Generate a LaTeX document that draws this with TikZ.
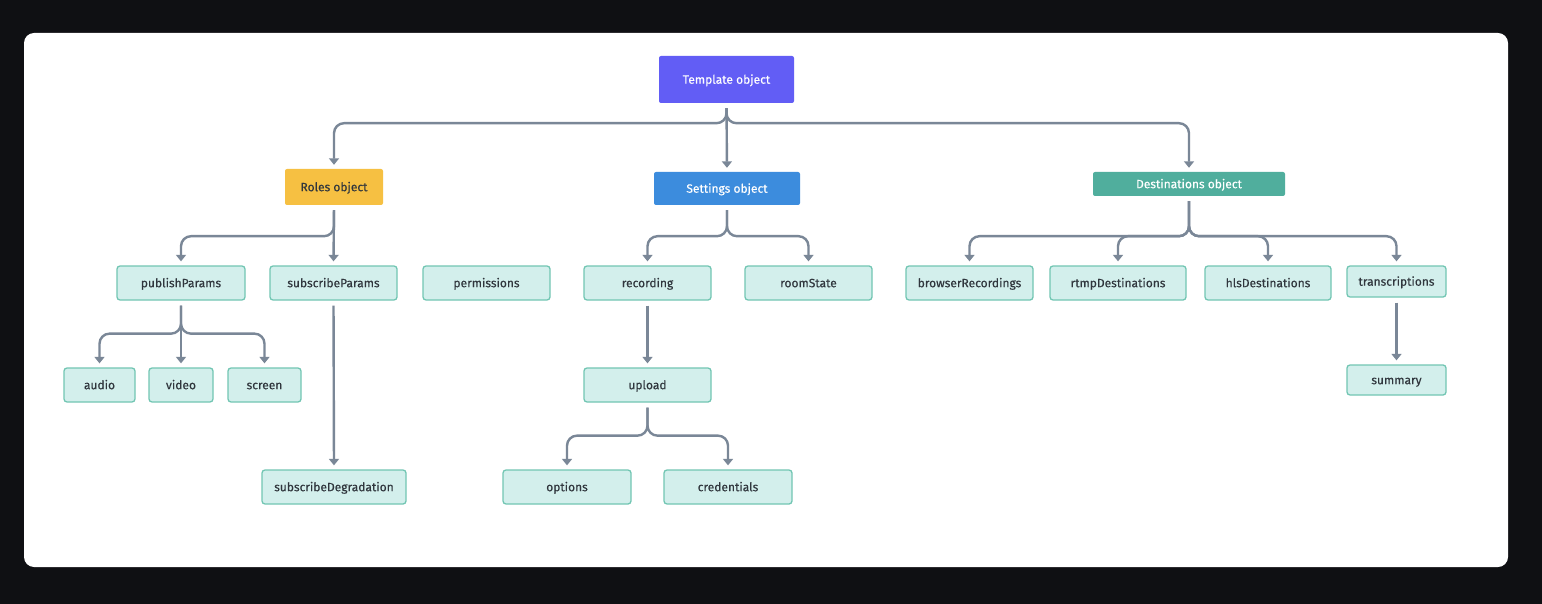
\documentclass[tikz,border=0pt]{standalone}
\usepackage{fontspec}
\setmainfont{Fira Sans}[FakeBold=0.35]
\usetikzlibrary{arrows.meta}
\definecolor{bgdark}{HTML}{0F1013}
\definecolor{tplc}{HTML}{625DF5}
\definecolor{rolec}{HTML}{F6C042}
\definecolor{setc}{HTML}{3C8CDD}
\definecolor{destc}{HTML}{50AE9D}
\definecolor{leaffill}{HTML}{D3EFEC}
\definecolor{leafdraw}{HTML}{72C6B3}
\definecolor{connc}{HTML}{7A8797}
\definecolor{txtc}{HTML}{30363D}
\begin{document}
\begin{tikzpicture}[x=1pt,y=-1pt,
  every node/.style={font=\fontsize{12}{14}\selectfont, text height=1.9ex, text depth=.3ex, inner sep=0pt},
  head/.style={rounded corners=2pt, minimum height=#1},
  leaf/.style={draw=leafdraw, line width=1.3pt, fill=leaffill, rounded corners=3pt, minimum height=34pt, text=txtc},
  conn/.style={draw=connc, line width=2.4pt, rounded corners=10pt, shorten <=5pt, shorten >=4pt,
    -{Triangle[width=10pt,length=6.5pt]}}
]
\fill[bgdark] (0,0) rectangle (1542,604);
\fill[white, rounded corners=10pt] (24,33) rectangle (1508,567);

% headers
\node[head=47pt, fill=tplc, text=white, minimum width=135pt] (T) at (726.5,79.5) {Template object};
\node[head=36pt, fill=rolec, text=txtc, minimum width=98pt] (R) at (334,187) {Roles object};
\node[head=33pt, fill=setc, text=white, minimum width=146pt] (S) at (727,188.5) {Settings object};
\node[head=24pt, fill=destc, text=white, minimum width=192pt] (D) at (1189,184) {Destinations object};

% level 2
\node[leaf, minimum width=128pt] (pub) at (181,283) {publishParams};
\node[leaf, minimum width=127pt] (sub) at (333.5,283) {subscribeParams};
\node[leaf, minimum width=127pt] (perm) at (486.5,283) {permissions};
\node[leaf, minimum width=127pt] (rec) at (647.5,283) {recording};
\node[leaf, minimum width=127pt] (room) at (808.5,283) {roomState};
\node[leaf, minimum width=127pt] (brow) at (969.5,283) {browserRecordings};
\node[leaf, minimum width=136pt] (rtmp) at (1118,283) {rtmpDestinations};
\node[leaf, minimum width=126pt] (hls) at (1268,283) {hlsDestinations};
\node[leaf, minimum width=99pt, minimum height=31pt] (tr) at (1396.5,281.5) {transcriptions};

% level 3
\node[leaf, minimum width=71pt] (aud) at (99.5,385) {audio};
\node[leaf, minimum width=64pt] (vid) at (181,385) {video};
\node[leaf, minimum width=73pt] (scr) at (264.5,385) {screen};
\node[leaf, minimum width=127pt] (up) at (647.5,385) {upload};
\node[leaf, minimum width=99pt, minimum height=30pt] (sum) at (1396.5,380) {summary};

% level 4
\node[leaf, minimum width=144pt] (deg) at (334,487) {subscribeDegradation};
\node[leaf, minimum width=128pt] (opt) at (567,487) {options};
\node[leaf, minimum width=128pt] (cred) at (728,487) {credentials};

% connectors
\draw[conn] (T.south) -- ++(0,20) -| (R.north);
\draw[conn] (T.south) -- (S.north);
\draw[conn] (T.south) -- ++(0,20) -| (D.north);

\draw[conn] (R.south) -- ++(0,31) -| (pub.north);
\draw[conn] (R.south) -- (sub.north);

\draw[conn] (S.south) -- ++(0,31) -| (rec.north);
\draw[conn] (S.south) -- ++(0,31) -| (room.north);

\draw[conn] (D.south) -- ++(0,40) -| (brow.north);
\draw[conn] (D.south) -- ++(0,40) -| (rtmp.north);
\draw[conn] (D.south) -- ++(0,40) -| (hls.north);
\draw[conn] (D.south) -- ++(0,40) -| (tr.north);

\draw[conn] (pub.south) -- ++(0,33) -| (aud.north);
\draw[conn] (pub.south) -- (vid.north);
\draw[conn] (pub.south) -- ++(0,33) -| (scr.north);

\draw[conn] (sub.south) -- (deg.north);
\draw[conn] (rec.south) -- (up.north);
\draw[conn] (up.south) -- ++(0,33) -| (opt.north);
\draw[conn] (up.south) -- ++(0,33) -| (cred.north);
\draw[conn] (tr.south) -- (sum.north);
\end{tikzpicture}
\end{document}
